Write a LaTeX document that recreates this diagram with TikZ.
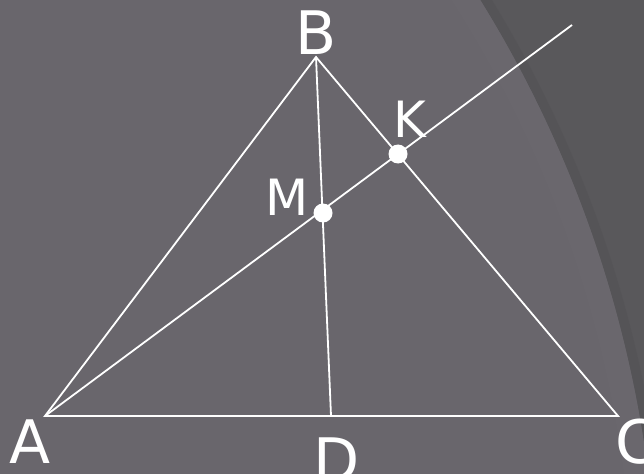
\documentclass[tikz,border=0pt]{standalone}
\usepackage{fontspec}
\setmainfont{DejaVu Sans}
\definecolor{bgmain}{HTML}{69666C}
\definecolor{bgrim}{HTML}{6E6B71}
\definecolor{bgdark}{HTML}{59585B}
\definecolor{bgedge}{HTML}{535255}
\tikzset{
  seg/.style={draw=white, line width=1.8pt},
  dot/.style={circle, fill=white, inner sep=0pt, minimum size=19pt},
  biglbl/.style={text=white, anchor=base, font=\fontsize{60}{60}\selectfont, inner sep=0pt},
  smalllbl/.style={text=white, anchor=base, font=\fontsize{50}{50}\selectfont, inner sep=0pt}
}
\begin{document}
\begin{tikzpicture}[x=1pt, y=-1pt]
  \useasboundingbox (0,0) rectangle (644,473);
  \begin{scope}
    \clip (0,0) rectangle (644,473);
    \fill[bgdark] (0,0) rectangle (644,473);
    \draw[bgedge, line width=10pt, opacity=0.5] (-532,626) circle[radius=1195pt];
    \fill[bgmain] (-532,626) circle[radius=1190pt];
    \draw[bgrim, line width=24pt, opacity=0.35] (-532,626) circle[radius=1178pt];
  \end{scope}
  % points
  \coordinate (A) at (45,416);
  \coordinate (C) at (618,416);
  \coordinate (B) at (316,57);
  \coordinate (D) at (331,416);
  \coordinate (E) at (572,25);
  \coordinate (K) at (398,154);
  \coordinate (M) at (323,213);
  % lines
  \draw[seg] (A) -- (B) -- (C) -- cycle;
  \draw[seg] (B) -- (D);
  \draw[seg] (A) -- (E);
  \node[dot] (Kd) at (K) {};
  \node[dot] (Md) at (M) {};
  % labels
  \node[biglbl] (lB) at (316,55) {B};
  \node[smalllbl] (lK) at (410,138) {K};
  \node[smalllbl] (lM) at (287,215) {M};
  \node[biglbl] (lA) at (30,463) {A};
  \node[biglbl] (lD) at (337,481) {D};
  \node[biglbl] (lC) at (636,463) {C};
\end{tikzpicture}
\end{document}
